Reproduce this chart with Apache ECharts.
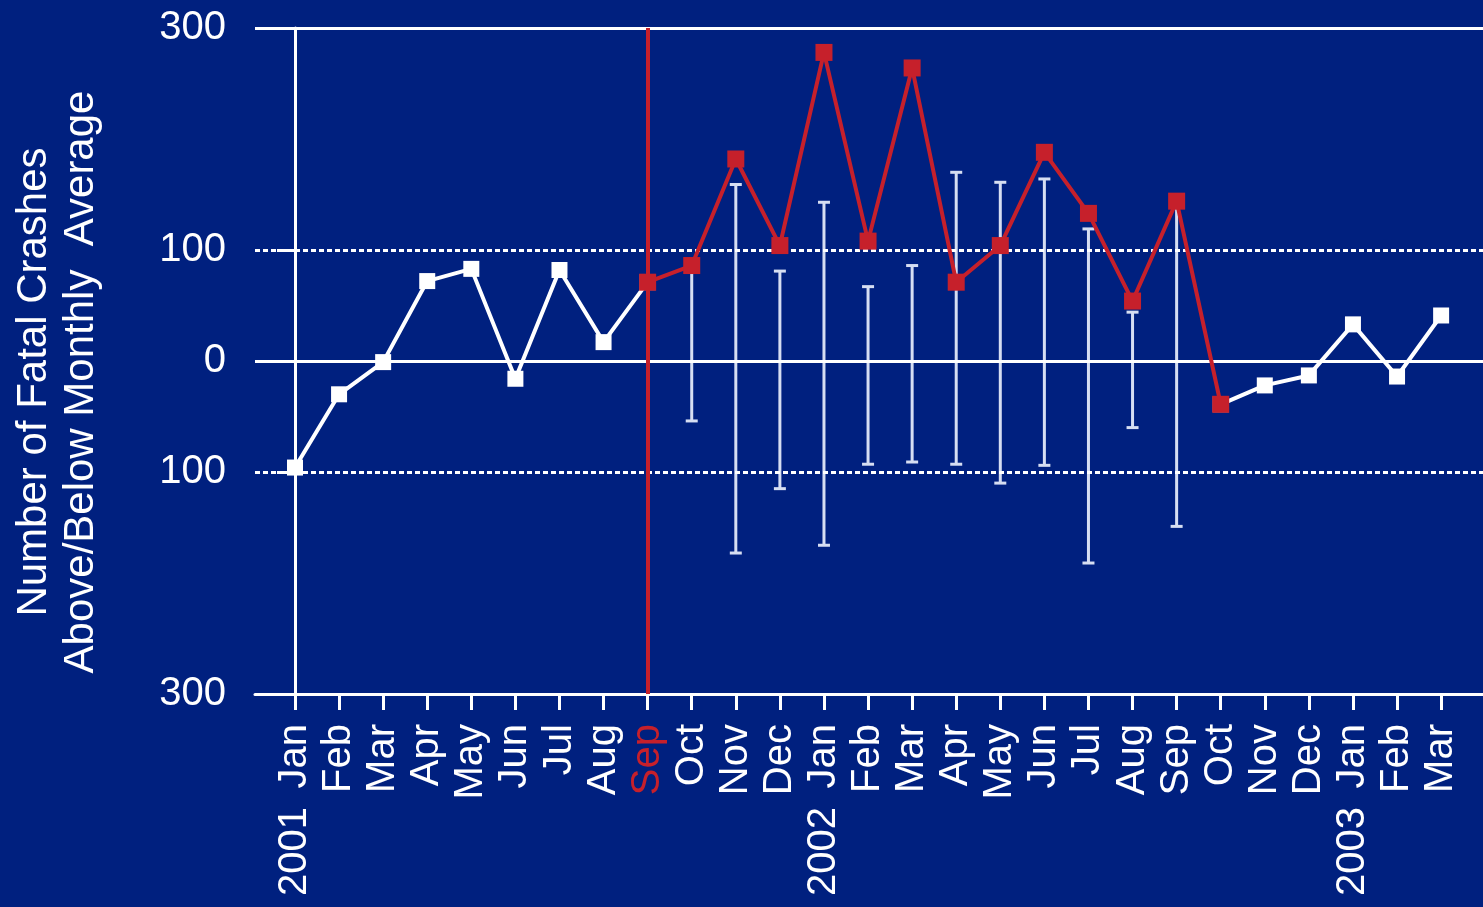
<!DOCTYPE html>
<html>
<head>
<meta charset="utf-8">
<script src="https://cdn.jsdelivr.net/npm/echarts@6/dist/echarts.min.js"></script>
<style>
html,body{margin:0;padding:0;background:#00207f;}
#chart{width:1483px;height:907px;}
</style>
</head>
<body>
<div id="chart"></div>
<script>
// ---- data ----
const months = ['Jan','Feb','Mar','Apr','May','Jun','Jul','Aug','Sep','Oct','Nov','Dec',
                'Jan','Feb','Mar','Apr','May','Jun','Jul','Aug','Sep','Oct','Nov','Dec',
                'Jan','Feb','Mar'];
const yearLabels = ['2001','2002','2003'];
const yearIndex = [0, 12, 24];
const values = [-96,-30,-1,72,83,-16,82,17,71,86,182,104,278,108,264,71,104,188,133,54,144,-39,-22,-13,33,-14,41];
const errHigh = [null,null,null,null,null,null,null,null,null,84,159,81,143,67,86,170,161,164,119,44,140,null,null,null,null,null,null];
const errLow  = [null,null,null,null,null,null,null,null,null,-54,-173,-115,-166,-93,-91,-93,-110,-94,-182,-60,-149,null,null,null,null,null,null];
const yTicks = [-300,-100,0,100,300];
const highlightIndex = 8;   // Sep 2001
const redStart = 8, redEnd = 21;

const WHITE = '#ffffff', RED = '#c6202b', BG = '#00207f', ERR = '#d6def2';
const FONT = 'Liberation Sans, Arial, sans-serif';
const FS = 40;

const idx = months.map((m,i)=>i);
const whiteData = values.map((v,i)=> (i<=redStart || i>=redEnd) ? [i,v] : [i,'-']);
const redData = values.map((v,i)=> (i>=redStart && i<=redEnd) ? [i,v] : [i,'-']);
const errData = [];
values.forEach((v,i)=>{ if(errHigh[i]!=null) errData.push([i, errLow[i], errHigh[i]]); });

const chart = echarts.init(document.getElementById('chart'));
chart.setOption({
  backgroundColor: BG,
  animation: false,
  grid: {left: 255, top: 28, right: 0, bottom: 213, containLabel: false, outerBoundsMode: 'none'},
  xAxis: [{
    type: 'value', min: -0.907, max: 26.95,
    splitLine: {show:false},
    axisLine: {show:true, onZero:false, lineStyle:{color:WHITE, width:3}},
    axisTick: {show:true, customValues: idx, length: 16, lineStyle:{color:WHITE, width:3}},
    axisLabel: {
      customValues: idx, rotate: 90, margin: 30,
      fontFamily: FONT, fontSize: FS, color: WHITE,
      formatter: v => v===highlightIndex ? '{r|'+months[v]+'}' : '{w|'+months[v]+'}',
      rich: {
        w: {color: WHITE, fontFamily: FONT, fontSize: FS},
        r: {color: RED, fontFamily: FONT, fontSize: FS}
      }
    }
  },{
    type: 'value', min: -0.907, max: 26.95, position: 'bottom',
    splitLine: {show:false}, axisLine:{show:false}, axisTick:{show:false},
    axisLabel: {
      customValues: yearIndex, rotate: 90, margin: 113,
      fontFamily: FONT, fontSize: FS, color: WHITE,
      formatter: v => yearLabels[yearIndex.indexOf(v)]
    }
  }],
  yAxis: {
    type: 'value', min: -300, max: 300,
    splitLine: {show:false},
    axisLine: {show:true, lineStyle:{color:WHITE, width:3}},
    axisTick: {show:true, customValues: yTicks, length: 18, lineStyle:{color:WHITE, width:3}},
    axisLabel: {
      customValues: yTicks, margin: 29,
      fontFamily: FONT, fontSize: FS, color: WHITE,
      formatter: v => String(Math.abs(v))
    },
    name: 'Number of Fatal Crashes\nAbove/Below Monthly  Average',
    nameLocation: 'middle', nameRotate: 90, nameGap: 150, nameMoveOverlap: false,
    nameTextStyle: {color: WHITE, fontFamily: FONT, fontSize: 42, lineHeight: 47, align: 'center', padding: [0, 42, 0, 0]}
  },
  series: [{
    type: 'custom', z: 2, silent: true,
    data: errData,
    renderItem: function(params, api){
      const x = api.value(0);
      const lo = api.coord([x, api.value(1)]);
      const hi = api.coord([x, api.value(2)]);
      const cw = 6;
      const st = {stroke: ERR, lineWidth: 3};
      return {type:'group', children:[
        {type:'line', shape:{x1:lo[0], y1:lo[1], x2:hi[0], y2:hi[1]}, style: st},
        {type:'line', shape:{x1:lo[0]-cw, y1:lo[1], x2:lo[0]+cw, y2:lo[1]}, style: st},
        {type:'line', shape:{x1:hi[0]-cw, y1:hi[1], x2:hi[0]+cw, y2:hi[1]}, style: st}
      ]};
    }
  },{
    type: 'line', z: 1, silent: true, data: [],
    markLine: {
      silent: true, symbol: 'none', label: {show:false},
      data: [
        {yAxis: 300, lineStyle:{color:WHITE, width:3, type:'solid'}},
        {yAxis: 0, lineStyle:{color:WHITE, width:3, type:'solid'}},
        {yAxis: 100, lineStyle:{color:WHITE, width:3, type:[5,3]}},
        {yAxis: -100, lineStyle:{color:WHITE, width:3, type:[5,3]}}
      ]
    }
  },{
    type: 'line', z: 3, data: whiteData, connectNulls: false,
    symbol: 'rect', symbolSize: 16,
    lineStyle: {color: WHITE, width: 4},
    itemStyle: {color: WHITE}
  },{
    type: 'line', z: 4, data: [], silent: true,
    markLine: {
      silent: true, symbol: 'none', label: {show:false},
      data: [{xAxis: highlightIndex, lineStyle:{color:RED, width:4, type:'solid'}}]
    }
  },{
    type: 'line', z: 5, data: redData, connectNulls: false,
    symbol: 'rect', symbolSize: 17,
    lineStyle: {color: RED, width: 4},
    itemStyle: {color: RED}
  }]
});
</script>
</body>
</html>
